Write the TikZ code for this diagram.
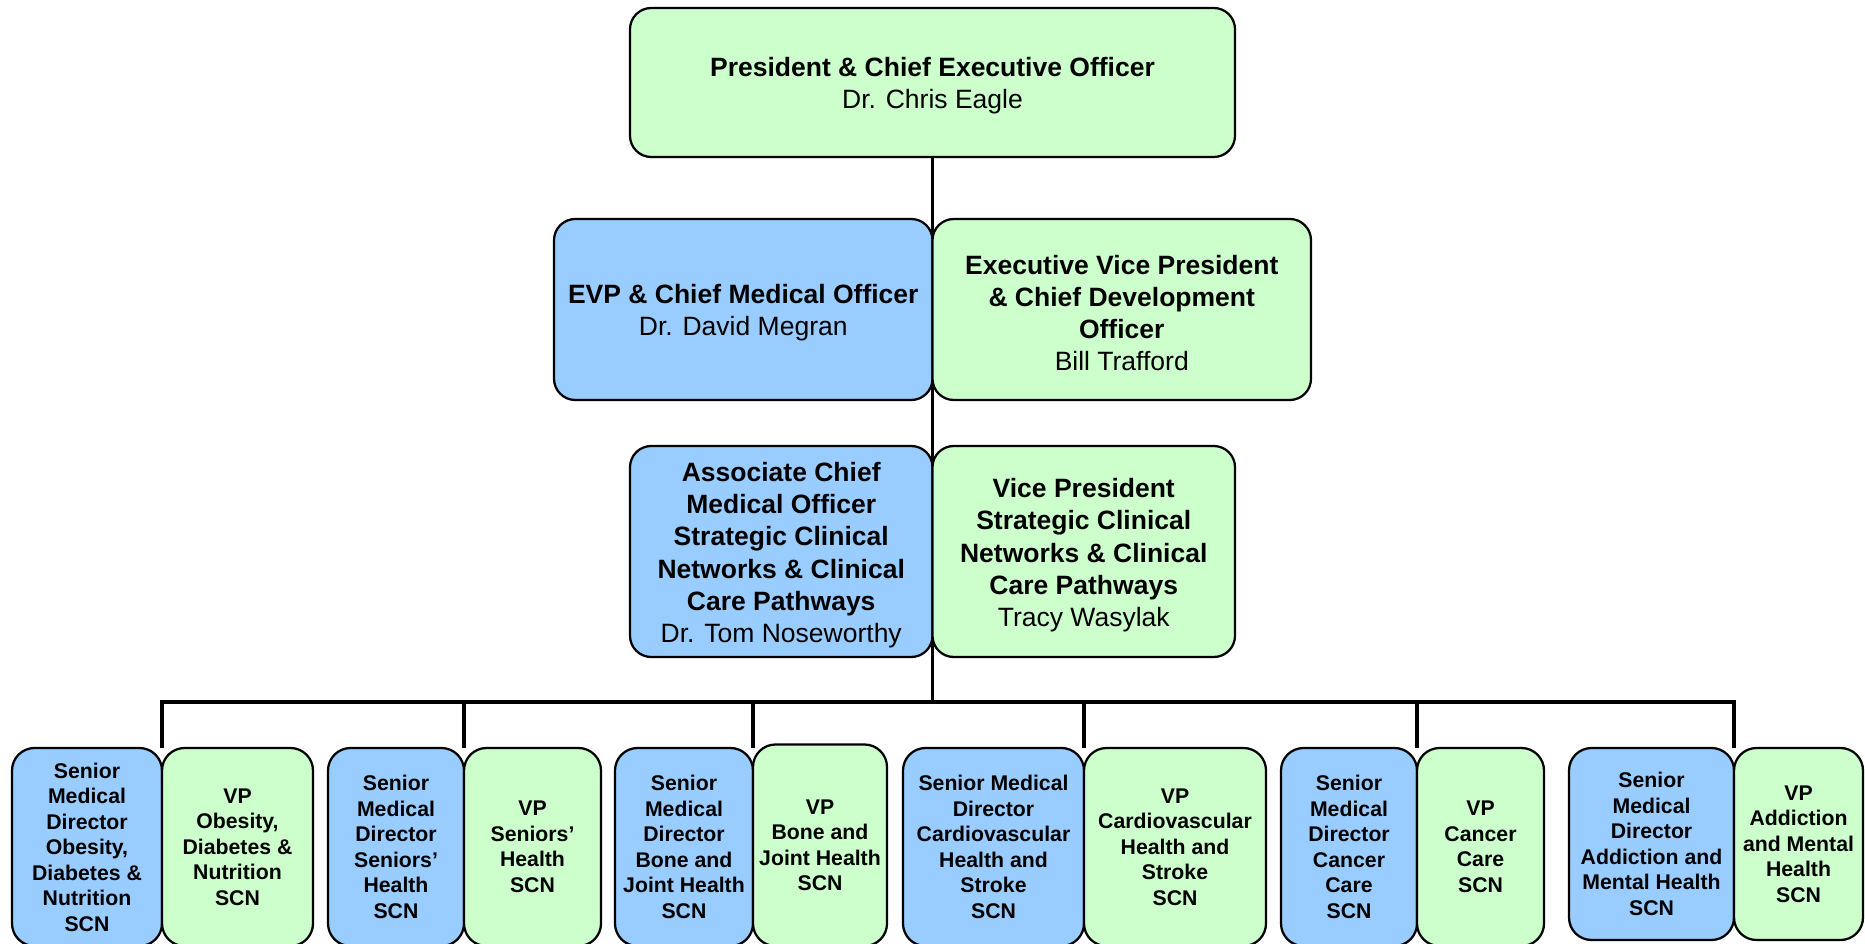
\documentclass[tikz,border=0pt]{standalone}
\usepackage{fontspec}
\setmainfont{Liberation Sans}
\usetikzlibrary{backgrounds}
\definecolor{gfill}{HTML}{CCFFCC}
\definecolor{bfill}{HTML}{99CCFF}
\tikzset{
  box/.style={draw=black, line width=0.9pt, rounded corners=8.5pt, align=center, inner sep=0pt, outer sep=0pt},
  gbox/.style={box, fill=gfill},
  bbox/.style={box, fill=bfill},
  big/.style={font=\fontsize{10.6}{12.8}\selectfont},
  small/.style={font=\fontsize{8.5}{10.2}\selectfont\bfseries, rounded corners=9pt},
  conn/.style={line width=1.4pt, draw=black},
}
\newcommand\topadj{\rule{0pt}{10.6pt}}
\newcommand\orgbox[7]{\node[#6, minimum width={(#4-#2)*0.4pt}, minimum height={(#5-#3)*0.4pt}] (#1) at ({(#2+#4)/2},{(#3+#5)/2}) {#7};}
\begin{document}
\begin{tikzpicture}[x=0.4pt, y=-0.4pt]
\useasboundingbox (0,0) rectangle (1865,944);
% top levels
\orgbox{ceo}{630}{8}{1235}{157}{gbox,big}{\topadj\textbf{President \& Chief Executive Officer}\\Dr. Chris Eagle}
\orgbox{cmo}{554}{219}{932.5}{400}{bbox,big}{\topadj\textbf{EVP \& Chief Medical Officer}\\Dr. David Megran}
\orgbox{cdo}{932.5}{219}{1311}{400}{gbox,big}{\topadj\textbf{Executive Vice President}\\\textbf{\& Chief Development}\\\textbf{Officer}\\Bill Trafford}
\orgbox{acmo}{630}{446}{932.5}{657}{bbox,big}{\topadj\textbf{Associate Chief}\\\textbf{Medical Officer}\\\textbf{Strategic Clinical}\\\textbf{Networks \& Clinical}\\\textbf{Care Pathways}\\Dr. Tom Noseworthy}
\orgbox{vpscn}{932.5}{446}{1235}{657}{gbox,big}{\topadj\textbf{Vice President}\\\textbf{Strategic Clinical}\\\textbf{Networks \& Clinical}\\\textbf{Care Pathways}\\Tracy Wasylak}
% bottom row
\orgbox{b1}{12}{748}{162}{946}{bbox,small}{Senior\\Medical\\Director\\Obesity,\\Diabetes \&\\Nutrition\\SCN}
\orgbox{b2}{162}{748}{313}{946}{gbox,small}{VP\\Obesity,\\Diabetes \&\\Nutrition\\SCN}
\orgbox{b3}{328}{748}{464}{946}{bbox,small}{Senior\\Medical\\Director\\Seniors’\\Health\\SCN}
\orgbox{b4}{464}{748}{601}{946}{gbox,small}{VP\\Seniors’\\Health\\SCN}
\orgbox{b5}{615}{748}{753}{946}{bbox,small}{Senior\\Medical\\Director\\Bone and\\Joint Health\\SCN}
\orgbox{b6}{753}{744.5}{887}{946}{gbox,small}{VP\\Bone and\\Joint Health\\SCN}
\orgbox{b7}{903}{748}{1084}{946}{bbox,small}{Senior Medical\\Director\\Cardiovascular\\Health and\\Stroke\\SCN}
\orgbox{b8}{1084}{748}{1266}{946}{gbox,small}{VP\\Cardiovascular\\Health and\\Stroke\\SCN}
\orgbox{b9}{1281}{748}{1417}{946}{bbox,small}{Senior\\Medical\\Director\\Cancer\\Care\\SCN}
\orgbox{b10}{1417}{748}{1544}{946}{gbox,small}{VP\\Cancer\\Care\\SCN}
\orgbox{b11}{1569}{748}{1734}{940}{bbox,small}{Senior\\Medical\\Director\\Addiction and\\Mental Health\\SCN}
\orgbox{b12}{1734}{748}{1863}{940}{gbox,small}{VP\\Addiction\\and Mental\\Health\\SCN}
\coordinate (bus) at (932.5,702);
\begin{scope}[on background layer]
\draw[conn] (ceo.south) -- (bus);
\draw[conn] (b1.north east) |- (bus);
\draw[conn] (b3.north east) |- (bus);
\draw[conn] (b5.north east) |- (bus);
\draw[conn] (b7.north east) |- (bus);
\draw[conn] (b9.north east) |- (bus);
\draw[conn] (b11.north east) |- (bus);
\end{scope}
\end{tikzpicture}
\end{document}
